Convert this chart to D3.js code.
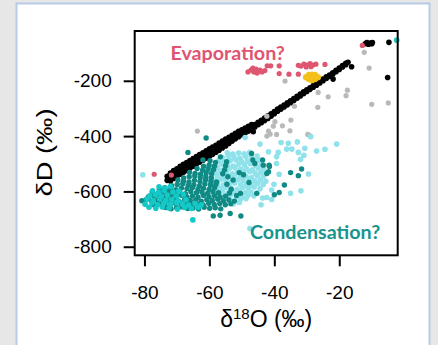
<!DOCTYPE html>
<html><head><meta charset="utf-8">
<script src="https://cdn.jsdelivr.net/npm/d3@7"></script>
<style>
body{margin:0;background:#e7e7e7;}
svg{display:block;}
</style></head>
<body>
<script>
// ---- data (δ18O, δD in ‰) ----
const xTicks = [-80, -60, -40, -20];
const yTicks = [-200, -400, -600, -800];

const blackPts = [
[-73,-560],[-73,-545],[-72,-562],[-72,-548],[-72,-534],[-71,-553],[-71,-540],[-71,-525],[-70,-546],[-70,-532],[-70,-518],
[-69,-538],[-69,-523],[-69,-509],[-68,-531],[-68,-517],[-68,-502],[-67,-524],[-67,-510],[-67,-496],[-66,-516],[-66,-501],[-66,-488],
[-65,-509],[-65,-495],[-65,-481],[-64,-501],[-64,-488],[-64,-474],[-63,-494],[-63,-481],[-63,-467],[-62,-487],[-62,-473],[-62,-460],
[-61,-480],[-61,-466],[-61,-453],[-60,-473],[-60,-460],[-60,-446],[-59,-466],[-59,-452],[-59,-440],[-58,-458],[-58,-445],[-58,-433],
[-57,-451],[-57,-438],[-57,-425],[-56,-443],[-56,-430],[-56,-418],[-55,-436],[-55,-423],[-55,-411],[-54,-427],[-54,-415],[-54,-404],
[-53,-418],[-53,-407],[-53,-397],[-52,-410],[-52,-399],[-52,-390],[-51,-402],[-51,-392],[-51,-383],[-50,-395],[-50,-386],[-50,-377],
[-49,-389],[-49,-380],[-49,-371],[-48,-382],[-48,-373],[-48,-365],[-47,-374],[-47,-365],[-47,-358],[-46,-367],[-46,-358],
[-45,-359],[-45,-350],[-44,-352],[-44,-343],[-43,-344],[-43,-335],[-42,-336],[-42,-327],[-41,-328],[-41,-319],[-40,-319],[-40,-311],
[-39,-310],[-39,-302],[-38,-303],[-38,-295],[-37,-295],[-37,-288],[-36,-287],[-36,-280],[-35,-279],[-35,-272],[-34,-271],[-34,-264],
[-33,-263],[-33,-256],[-32,-255],[-32,-248],[-31,-247],[-31,-240],[-30,-239],[-30,-233],[-29,-231],[-29,-225],[-28,-223],[-28,-217],
[-27,-216],[-27,-210],[-26,-208],[-26,-202],[-25,-200],[-25,-194],[-24,-192],[-24,-186],[-23,-184],[-23,-179],[-22,-176],[-22,-171],
[-21,-167],[-21,-162],[-20,-159],[-20,-154],[-19,-150],[-19,-145],[-18,-142],[-18,-137],[-17.3,-133],
[-16.2,-149],[-21.9,-194],[-12,-66],[-11.5,-62],[-11,-68],[-10.5,-64],[-10,-66],[-9.8,-62],[-4.7,-61],[-5.1,-188],[-46.5,-384]
];

const grayPts = [
[-36.7,-201],[-26.5,-242],[-23.4,-258],[-17.5,-234],[-17.9,-254],[-12.3,-97],[-10.8,-154],[-10.0,-285],[-4.9,-280],
[-26.6,-296],[-33.8,-292],[-63.7,-382],[-34.9,-342],[-37.5,-363],[-39.8,-348],[-41.8,-382],[-39.3,-394],[-35.2,-381],
[-29.7,-394],[-42.3,-400],[-42.3,-328],[-40.3,-364],[-41.3,-393],[-29.3,-396]
];

const redPts = [
[-48.1,-168],[-47.2,-161],[-46.3,-168],[-45.6,-158],[-45.0,-165],[-44.4,-161],[-43.8,-168],[-46.6,-154],[-45.3,-172],[-42.9,-163],
[-42.2,-146],[-41.1,-146],[-38.5,-146],[-38.5,-174],[-35.5,-176],[-32.6,-176],[-32.6,-144],[-31.8,-147],[-30.9,-140],[-30.0,-143],
[-29.0,-138],[-28.1,-143],[-27.2,-140],[-30.2,-150],[-28.7,-149],[-24.4,-141],[-12.9,-72],[-77.0,-538],[-71.7,-541]
];

const yellowPts = [
[-30.2,-187],[-29.3,-179],[-29.3,-194],[-28.4,-178],[-28.4,-187],[-28.4,-197],[-27.5,-179],[-27.5,-194],[-26.6,-187],[-27.1,-187],[-29.6,-187]
];

const lightCyanPts = [
[-54.5,-460],[-52.8,-465],[-51.0,-461],[-49.3,-464],[-47.6,-459],
[-56.0,-478],[-54.2,-473],[-52.4,-477],[-50.6,-480],[-48.8,-474],[-47.1,-476],[-45.3,-472],
[-57.1,-488],[-55.3,-493],[-53.6,-489],[-51.8,-486],[-50.1,-492],[-48.3,-490],[-46.5,-494],[-44.8,-487],
[-59.6,-508],[-58.0,-506],[-56.2,-501],[-54.5,-505],[-52.7,-508],[-51.0,-502],[-49.2,-504],[-47.4,-500],[-45.7,-506],[-43.9,-503],
[-59.2,-519],[-57.4,-516],[-55.6,-521],[-53.9,-517],[-52.1,-514],[-50.3,-520],[-48.6,-518],[-46.8,-522],[-45.0,-515],[-43.3,-519],
[-60.0,-531],[-58.2,-534],[-56.5,-529],[-54.7,-533],[-52.9,-536],[-51.2,-530],[-49.4,-532],[-47.6,-528],[-45.9,-534],[-44.1,-531],[-42.5,-535],
[-59.4,-547],[-57.6,-544],[-55.8,-549],[-54.0,-545],[-52.3,-542],[-50.5,-548],[-48.7,-546],[-47.0,-550],[-45.2,-543],[-43.4,-547],
[-60.2,-559],[-58.4,-562],[-56.6,-557],[-54.9,-561],[-53.1,-564],[-51.3,-558],[-49.6,-560],[-47.8,-556],[-46.0,-562],[-44.3,-559],[-42.6,-563],
[-59.3,-575],[-57.5,-572],[-55.7,-577],[-53.9,-573],[-52.2,-570],[-50.4,-576],[-48.6,-574],[-46.9,-578],[-45.1,-571],[-43.4,-575],
[-58.6,-587],[-56.8,-590],[-55.0,-585],[-53.3,-589],[-51.5,-592],[-49.7,-586],[-48.0,-588],[-46.2,-584],[-44.4,-590],
[-57.8,-603],[-56.0,-600],[-54.2,-605],[-52.5,-601],[-50.7,-598],[-48.9,-604],[-47.2,-602],[-45.4,-606],
[-55.2,-618],[-53.4,-613],[-51.6,-617],[-49.9,-620],[-48.1,-614],[-46.3,-616],
[-54.0,-628],[-52.2,-633],[-50.5,-629],[-48.7,-626],
[-52.6,-645],[-50.8,-640],
[-20.8,-429],[-24.4,-448],[-27.0,-454],[-28.8,-402],[-30.6,-444],[-30.9,-469],[-31.9,-484],[-32.6,-459],[-32.9,-421],
[-34.6,-447],[-36.2,-447],[-35.7,-426],[-38.8,-459],[-39.3,-475],[-39.3,-499],[-41.8,-457],[-29.5,-537],[-31.8,-598],
[-35.0,-607],[-40.8,-595],[-40.1,-574],[-38.5,-538],[-42.3,-622],[-40.8,-629],[-49.0,-405],[-44.4,-429],[-37.9,-423],
[-44.1,-648],[-43.6,-624],[-47.5,-734],[-80.5,-540]
];

const tealPts = [
[-61.0,-407],[-66.6,-459],[-62,-486],[-80.8,-634],[-58.8,-689],[-56.7,-686],[-53.6,-680],[-50.3,-689],[-35.0,-532],[-32.6,-543],
[-31.6,-519],[-36.9,-577],[-38.5,-604],[-41.6,-505],[-42.3,-535],[-41.5,-510],[-40,-612],[-43.6,-486],[-46.6,-486],
[-47,-463],[-46,-499],[-43.4,-505],[-41.8,-529],[-45.4,-607],[-49.5,-540],[-47.8,-568],
[-56.6,-475],
[-59.8,-489],[-58.1,-495],[-54.7,-493],
[-61.8,-509],[-60.1,-505],[-58.4,-508],[-55.0,-507],
[-63.8,-517],[-62.1,-523],[-60.4,-519],[-58.7,-521],[-55.3,-522],
[-66.1,-531],[-64.4,-535],[-62.7,-538],[-61.0,-532],[-59.3,-535],[-55.9,-536],[-50.8,-532],
[-67.9,-551],[-66.2,-547],[-64.5,-544],[-62.8,-550],[-61.1,-546],[-59.4,-551],[-54.3,-547],
[-69.7,-559],[-68.0,-563],[-66.3,-566],[-64.6,-560],[-62.9,-564],[-61.2,-558],[-59.5,-563],[-57.8,-566],[-52.7,-559],
[-71.6,-579],[-69.9,-575],[-68.2,-572],[-66.5,-578],[-64.8,-576],[-63.1,-580],[-61.4,-573],[-59.7,-577],[-58.0,-575],[-54.6,-574],
[-75.4,-592],[-73.7,-587],[-72.0,-591],[-70.3,-594],[-68.6,-588],[-66.9,-590],[-65.2,-586],[-63.5,-592],[-61.8,-589],[-60.1,-593],[-58.4,-587],[-53.3,-592],
[-77.6,-602],[-75.9,-607],[-74.2,-603],[-72.5,-600],[-70.8,-606],[-69.1,-604],[-67.4,-608],[-65.7,-601],[-64.0,-605],[-62.3,-603],[-60.6,-607],[-58.9,-602],[-57.2,-605],[-53.8,-606],[-50.4,-607],
[-78.8,-620],[-77.1,-615],[-75.4,-619],[-73.7,-622],[-72.0,-616],[-70.3,-618],[-68.6,-614],[-66.9,-620],[-65.2,-617],[-63.5,-621],[-61.8,-615],[-60.1,-619],[-58.4,-616],[-56.7,-620],[-55.0,-617],[-51.6,-615],
[-79.5,-630],[-77.8,-635],[-76.1,-631],[-74.4,-628],[-72.7,-634],[-71.0,-632],[-69.3,-636],[-67.6,-629],[-65.9,-633],[-64.2,-631],[-62.5,-635],[-60.8,-630],[-59.1,-633],[-57.4,-628],[-55.7,-634],[-54.0,-631],[-52.3,-635],
[-77.2,-648],[-75.5,-643],[-73.8,-647],[-72.1,-650],[-70.4,-644],[-68.7,-646],[-67.0,-642],[-65.3,-648],[-63.6,-645],[-61.9,-649],[-60.2,-643],[-58.5,-647],[-56.8,-644],[-55.1,-648],[-53.4,-645],
[-73.5,-658],[-71.8,-663],[-70.1,-659],[-68.4,-656],[-66.7,-662],[-65.0,-660],[-63.3,-664],[-61.6,-657],[-59.9,-661],[-58.2,-659],[-56.5,-663]
];

const cyanPts = [
[-2.3,-53],[-65.1,-703],
[-75.5,-583],[-73.8,-588],[-72.0,-582],
[-77.5,-598],[-75.6,-603],[-73.9,-597],[-71.2,-602],[-69.4,-599],
[-78.4,-616],[-76.6,-612],[-74.8,-618],[-72.9,-613],[-70.1,-617],[-68.0,-611],
[-79.2,-628],[-77.3,-633],[-75.3,-627],[-73.4,-632],[-71.6,-629],[-69.6,-634],[-67.2,-630],
[-79.8,-646],[-77.7,-642],[-75.9,-648],[-74.0,-643],[-72.1,-647],[-70.2,-641],[-68.3,-646],[-66.4,-649],[-64.4,-644],[-62.5,-648],
[-78.6,-657],[-76.5,-661],[-74.5,-656],[-72.4,-660],[-69.8,-664],[-67.6,-658],[-65.5,-662],[-63.4,-657]
];

// ---- layout ----
const W = 438, H = 345;
const L = 134.7, R = 397.7, T = 31, B = 255.3;
const svg = d3.select("body").append("svg").attr("width", W).attr("height", H);

svg.append("rect").attr("x", 16.5).attr("y", 3.5).attr("width", 413).attr("height", 360)
  .attr("fill", "#ffffff").attr("stroke", "#b7cbe6").attr("stroke-width", 2);

const x = d3.scaleLinear().domain([-83, -2]).range([L, R]);
const y = d3.scaleLinear().domain([-831, -20]).range([B, T]);

const g = svg.append("g");
function dots(data, color, r) {
  g.append("g").selectAll("circle").data(data).join("circle")
    .attr("cx", d => x(d[0])).attr("cy", d => y(d[1])).attr("r", r).attr("fill", color);
}
dots(blackPts, "#000000", 2.8);
dots(grayPts, "#b9b9b9", 2.6);
dots(redPts, "#de5770", 2.6);
dots(yellowPts, "#f2c018", 3.2);
dots(lightCyanPts, "#8fe1ea", 2.8);
dots(tealPts, "#0f8a84", 2.7);
dots(cyanPts, "#14c8c8", 2.8);

// box
svg.append("rect").attr("x", L).attr("y", T).attr("width", R - L).attr("height", B - T)
  .attr("fill", "none").attr("stroke", "#000").attr("stroke-width", 2);

// axes
const fmt = d => String(d);
const xAxis = svg.append("g").attr("transform", `translate(0,${B})`)
  .call(d3.axisBottom(x).tickValues(xTicks).tickSize(11).tickPadding(19).tickFormat(fmt));
const yAxis = svg.append("g").attr("transform", `translate(${L},0)`)
  .call(d3.axisLeft(y).tickValues(yTicks).tickSize(11).tickPadding(12).tickFormat(fmt));
[xAxis, yAxis].forEach(a => {
  a.select(".domain").remove();
  a.selectAll("line").attr("stroke", "#000").attr("stroke-width", 2);
  a.selectAll("text").attr("fill", "#000").style("font-family", "Liberation Sans, Arial, sans-serif").style("font-size", "19px");
});

// axis titles
const xl = svg.append("text").attr("x", (L + R) / 2).attr("y", 327).attr("text-anchor", "middle")
  .style("font-family", "Liberation Sans, Arial, sans-serif").style("font-size", "23px").attr("fill", "#000");
xl.append("tspan").text("δ");
xl.append("tspan").attr("dy", -8).style("font-size", "15px").text("18");
xl.append("tspan").attr("dy", 8).text("O (‰)");

svg.append("text").attr("transform", "translate(52,152.5) rotate(-90)").attr("text-anchor", "middle")
  .style("font-family", "Liberation Sans, Arial, sans-serif").style("font-size", "22px").attr("fill", "#000")
  .attr("textLength", 88).attr("lengthAdjust", "spacingAndGlyphs")
  .text("δD (‰)");

// annotations
svg.append("text").attr("x", 170.5).attr("y", 60).style("font-family", "Lato, sans-serif").style("font-weight", "bold")
  .style("font-size", "19.7px").attr("fill", "#df5571").text("Evaporation?");
svg.append("text").attr("x", 250).attr("y", 239).style("font-family", "Lato, sans-serif").style("font-weight", "bold")
  .style("font-size", "19.7px").attr("fill", "#16948d").text("Condensation?");
</script>
</body></html>
